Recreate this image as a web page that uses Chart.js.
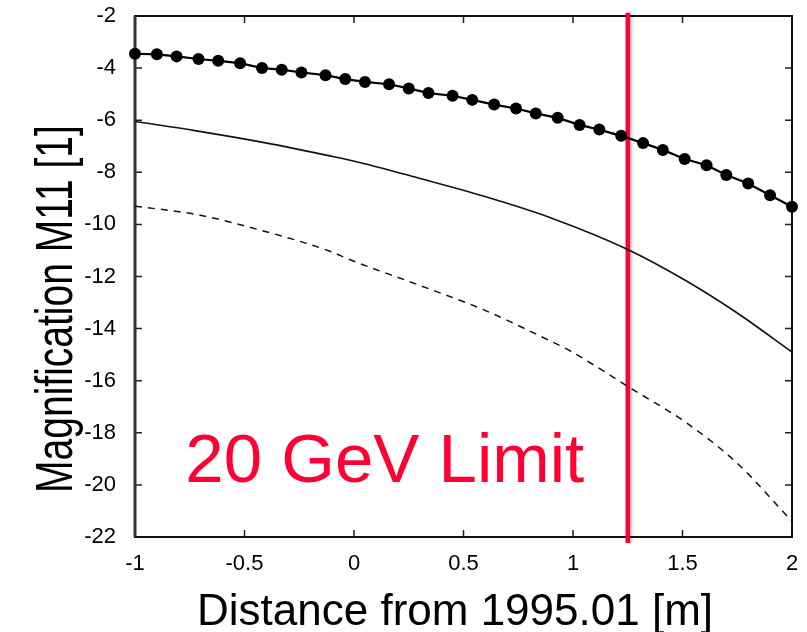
<!DOCTYPE html>
<html>
<head>
<meta charset="utf-8">
<script src="https://cdn.jsdelivr.net/npm/chart.js@4.4.0/dist/chart.umd.min.js"></script>
<style>
  html, body { margin: 0; padding: 0; background: #fff; }
</style>
</head>
<body>
<canvas id="m11Chart" width="807" height="632"></canvas>
<script>
// M11 magnification vs distance, three cases + the 20 GeV limit marker

// dotted curve (filled circles)
const dotX = [-1, -0.9, -0.81, -0.71, -0.62, -0.52, -0.42, -0.33, -0.24, -0.13, -0.04, 0.05,
              0.16, 0.25, 0.34, 0.45, 0.54, 0.64, 0.74, 0.83, 0.93, 1.03, 1.12, 1.22,
              1.32, 1.41, 1.51, 1.61, 1.7, 1.8, 1.9, 2];
const dotY = [-3.45, -3.47, -3.55, -3.65, -3.72, -3.81, -4.0, -4.06, -4.17, -4.27, -4.42, -4.53,
              -4.62, -4.78, -4.96, -5.06, -5.22, -5.4, -5.55, -5.74, -5.91, -6.18, -6.36, -6.6,
              -6.88, -7.14, -7.49, -7.73, -8.1, -8.43, -8.88, -9.32];

// solid curve
const solidX = [-1, -0.72, -0.41, -0.11, 0.03, 0.29, 0.59, 0.9, 1.25, 1.52, 1.75, 2];
const solidY = [-6.05, -6.41, -6.86, -7.37, -7.63, -8.21, -8.91, -9.75, -10.96, -12.18, -13.4, -14.9];

// dashed curve
const dashX = [-1, -0.72, -0.41, -0.11, -0.02, 0.29, 0.59, 0.9, 0.99, 1.25, 1.52, 1.75, 2];
const dashY = [-9.3, -9.62, -10.26, -11.03, -11.35, -12.31, -13.27, -14.49, -14.87, -16.22, -17.63, -19.17, -21.4];

// 20 GeV limit
const limitX = 1.25;
const limitY = [-1.88, -22.23];
const limitLabel = '20 GeV Limit';
const limitLabelPos = { x: -0.77, y: -19.9 };

const xTicks = [-1, -0.5, 0, 0.5, 1, 1.5, 2];
const yTicks = [-22, -20, -18, -16, -14, -12, -10, -8, -6, -4, -2];
const xTitle = 'Distance from 1995.01 [m]';
const yTitle = 'Magnification M11 [1]';

const RED = 'rgb(255, 0, 51)';
const FONT = '"Liberation Sans", Arial, sans-serif';

const toPoints = (xs, ys) => xs.map((x, i) => ({ x: x, y: ys[i] }));

// box around the plot with inward tick marks on all four sides
const framePlugin = {
    id: 'frame',
    beforeDatasetsDraw(chart) {
        const { ctx, chartArea: a, scales: { x, y } } = chart;
        const tl = 7;
        ctx.save();
        ctx.strokeStyle = '#222';
        ctx.lineWidth = 1.5;
        xTicks.forEach(v => {
            const px = x.getPixelForValue(v);
            ctx.beginPath();
            ctx.moveTo(px, a.bottom); ctx.lineTo(px, a.bottom - tl);
            ctx.moveTo(px, a.top); ctx.lineTo(px, a.top + tl);
            ctx.stroke();
        });
        yTicks.forEach(v => {
            const py = y.getPixelForValue(v);
            ctx.beginPath();
            ctx.moveTo(a.left, py); ctx.lineTo(a.left + tl, py);
            ctx.moveTo(a.right, py); ctx.lineTo(a.right - tl, py);
            ctx.stroke();
        });
        ctx.lineWidth = 2;
        ctx.strokeStyle = '#111';
        ctx.strokeRect(a.left, a.top, a.right - a.left, a.bottom - a.top);
        ctx.lineWidth = 3;
        ctx.strokeStyle = '#333';
        ctx.beginPath();
        ctx.moveTo(a.left, a.top); ctx.lineTo(a.left, a.bottom);
        ctx.stroke();
        ctx.restore();
    },
    // soft shadow on the red limit line
    beforeDatasetDraw(chart, args) {
        if (args.index !== 3) return;
        const ctx = chart.ctx;
        ctx.save();
        ctx.shadowColor = 'rgba(0, 0, 0, 0.25)';
        ctx.shadowOffsetX = 2;
        ctx.shadowBlur = 3;
    },
    afterDatasetDraw(chart, args) {
        if (args.index !== 3) return;
        chart.ctx.restore();
    },
    afterDraw(chart) {
        const { ctx, scales: { x, y } } = chart;
        ctx.save();
        // limit label
        ctx.fillStyle = RED;
        ctx.font = '69px ' + FONT;
        ctx.textAlign = 'left';
        ctx.textBaseline = 'alphabetic';
        ctx.fillText(limitLabel, x.getPixelForValue(limitLabelPos.x), y.getPixelForValue(limitLabelPos.y));

        // axis titles
        ctx.fillStyle = '#000';
        ctx.font = '44px ' + FONT;
        ctx.textAlign = 'center';
        ctx.fillText(xTitle, 455, 625);

        ctx.translate(72, 309);
        ctx.rotate(-Math.PI / 2);
        ctx.scale(0.75, 1);
        ctx.font = '52px ' + FONT;
        ctx.fillText(yTitle, 0, 0);
        ctx.restore();
    }
};

const ctxM11 = document.getElementById('m11Chart').getContext('2d');
new Chart(ctxM11, {
    type: 'line',
    data: {
        datasets: [
            {
                data: toPoints(dotX, dotY),
                borderColor: '#000',
                borderWidth: 2.2,
                pointRadius: 6,
                pointBackgroundColor: '#000',
                pointBorderWidth: 0,
                clip: false
            },
            {
                data: toPoints(solidX, solidY),
                borderColor: '#111',
                borderWidth: 1.6,
                pointRadius: 0,
                cubicInterpolationMode: 'monotone'
            },
            {
                data: toPoints(dashX, dashY),
                borderColor: '#111',
                borderWidth: 1.5,
                borderDash: [7, 6],
                pointRadius: 0,
                cubicInterpolationMode: 'monotone'
            },
            {
                data: toPoints([limitX, limitX], limitY),
                borderColor: RED,
                borderWidth: 4.5,
                pointRadius: 0,
                clip: false
            }
        ]
    },
    options: {
        responsive: false,
        animation: false,
        layout: { padding: { top: 16, right: 15, bottom: 0, left: 0 } },
        plugins: {
            legend: { display: false },
            tooltip: { enabled: false }
        },
        scales: {
            x: {
                type: 'linear',
                min: -1,
                max: 2,
                afterBuildTicks: s => { s.ticks = xTicks.map(v => ({ value: v })); },
                afterFit: s => {
                    s.height = 95;
                    s.paddingLeft = 0;
                    s.paddingRight = 0;
                },
                grid: { display: false },
                border: { display: false },
                ticks: {
                    padding: 6,
                    color: '#000',
                    font: { family: FONT, size: 22 },
                    maxRotation: 0,
                    callback: v => String(v)
                }
            },
            y: {
                type: 'linear',
                min: -22,
                max: -2,
                afterBuildTicks: s => { s.ticks = yTicks.map(v => ({ value: v })); },
                afterFit: s => {
                    s.width = 135;
                    s.paddingTop = 0;
                    s.paddingBottom = 0;
                },
                grid: { display: false },
                border: { display: false },
                ticks: {
                    padding: 11,
                    color: '#000',
                    font: { family: FONT, size: 22 },
                    callback: v => String(v)
                }
            }
        }
    },
    plugins: [framePlugin]
});
</script>
</body>
</html>
